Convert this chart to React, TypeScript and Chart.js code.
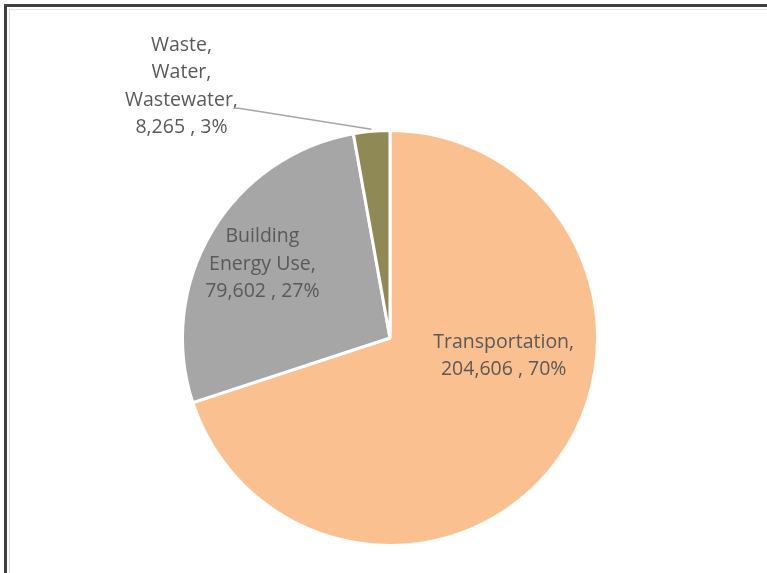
import React, { useEffect, useRef } from "react";
import { Chart, registerables } from "chart.js";

Chart.register(...registerables);

const categories = ["Transportation", "Building Energy Use", "Waste, Water, Wastewater"];
const values = [204606, 79602, 8265];
const labelLines = [["Transportation,"], ["Building", "Energy Use,"], ["Waste,", "Water,", "Wastewater,"]];
const colors = ["#FAC090", "#A6A6A6", "#8F8A55"];
// label anchor offsets relative to pie center, in units of radius
const labelOffsets = [
  [0.548, 0.087],
  [-0.615, -0.356],
  [-1.005, -1.212],
];
const leaderLine = [false, false, true];

const FONT = '19.5px "Open Sans", "Noto Sans", sans-serif';
const LINE_H = 27.5;

const labelPlugin = {
  id: "sliceLabels",
  afterDatasetsDraw(chart: any) {
    const ctx = chart.ctx as CanvasRenderingContext2D;
    const meta = chart.getDatasetMeta(0);
    const total = values.reduce((a, b) => a + b, 0);
    ctx.save();
    ctx.font = FONT;
    ctx.fillStyle = "#595959";
    ctx.textAlign = "center";
    ctx.textBaseline = "middle";
    meta.data.forEach((arc: any, i: number) => {
      const { x, y, outerRadius, startAngle, endAngle } = arc.getProps(
        ["x", "y", "outerRadius", "startAngle", "endAngle"],
        true
      );
      const pct = Math.round((values[i] / total) * 100);
      const lines = [...labelLines[i], `${values[i].toLocaleString("en-US")} , ${pct}%`];
      const cx = x + labelOffsets[i][0] * outerRadius;
      const cy = y + labelOffsets[i][1] * outerRadius;
      const top = cy - ((lines.length - 1) * LINE_H) / 2;
      lines.forEach((ln, k) => ctx.fillText(ln, cx, top + k * LINE_H));
      if (leaderLine[i]) {
        const k = lines.length - 2;
        const w = ctx.measureText(lines[k]).width;
        const sx = cx + w / 2 - 4;
        const sy = top + k * LINE_H + 8;
        const mid = (startAngle + endAngle) / 2;
        const ex = x + Math.cos(mid) * outerRadius * 1.01;
        const ey = y + Math.sin(mid) * outerRadius * 1.01;
        ctx.strokeStyle = "#A6A6A6";
        ctx.lineWidth = 1.5;
        ctx.beginPath();
        ctx.moveTo(sx, sy);
        ctx.lineTo(sx + 5, sy);
        ctx.lineTo(ex, ey);
        ctx.stroke();
      }
    });
    ctx.restore();
  },
};

export default function App() {
  const ref = useRef<HTMLCanvasElement | null>(null);
  useEffect(() => {
    if (!ref.current) return;
    const chart = new Chart(ref.current, {
      type: "pie",
      data: {
        labels: categories,
        datasets: [
          {
            data: values,
            backgroundColor: colors,
            borderColor: "#FFFFFF",
            borderWidth: 3,
          },
        ],
      },
      options: {
        animation: false,
        responsive: false,
        maintainAspectRatio: false,
        layout: { padding: { left: 181, top: 128, right: 168, bottom: 25 } },
        plugins: {
          legend: { display: false },
          tooltip: { enabled: false },
        },
      },
      plugins: [labelPlugin],
    });
    return () => chart.destroy();
  }, []);

  return (
    <div style={{ position: "fixed", left: 0, top: 0, width: 767, height: 573, background: "#fff", overflow: "hidden" }}>
      <div
        style={{
          position: "absolute",
          left: 4,
          top: 4,
          width: 800,
          height: 566,
          borderLeft: "3px solid #3f3f3f",
          borderTop: "3px solid #3f3f3f",
          borderBottom: "1px solid #d9d9d9",
        }}
      >
        <div
          style={{
            position: "absolute",
            left: 2,
            top: 2,
            right: 0,
            bottom: 0,
            borderLeft: "1px solid #d9d9d9",
            borderTop: "1px solid #e6e6e6",
          }}
        />
      </div>
      <canvas ref={ref} width={767} height={573} style={{ position: "absolute", left: 0, top: 0, width: 767, height: 573 }} />
    </div>
  );
}
